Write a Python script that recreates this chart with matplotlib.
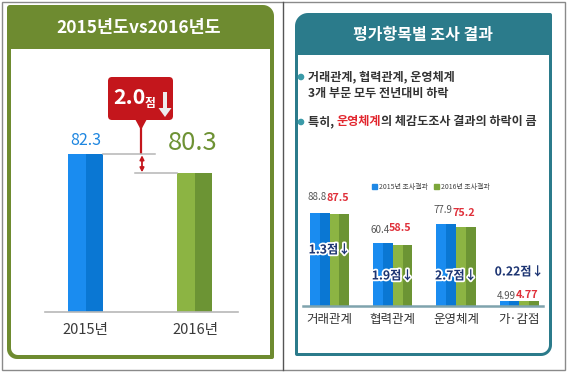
import matplotlib
matplotlib.use('Agg')
import matplotlib.pyplot as plt
import numpy as np
from matplotlib.patches import Polygon, FancyBboxPatch, Circle, Rectangle
import matplotlib.patheffects as pe

plt.rcParams['font.family'] = ['Noto Sans CJK KR', 'DejaVu Sans']

# ---------------- data ----------------
left_title = '2015년도vs2016년도'
years = ['2015년', '2016년']
year_scores = [82.3, 80.3]

right_title = '평가항목별 조사 결과'
categories = ['거래관계', '협력관계', '운영체계', '가·감점']
scores_2015 = [88.8, 60.4, 77.9, 4.99]
scores_2016 = [87.5, 58.5, 75.2, 4.77]
series_names = ['2015년 조사결과', '2016년 조사결과']
bullet1 = ['거래관계, 협력관계, 운영체계', '3개 부문 모두 전년대비 하락']
bullet2 = ['특히, ', '운영체계', '의 체감도조사 결과의 하락이 큼']
unit = '점'

# ---------------- styles ----------------
W, H = 567, 378
GREEN_HDR = '#6E8B30'
TEAL_HDR = '#2B7B8B'
BLUE_L, BLUE_D = '#1A8CF0', '#0A77D3'
GREEN_L, GREEN_D = '#8CB443', '#6C9434'
RED = '#C4161C'
NAVY = '#1C3472'
DARK = '#333333'

fig = plt.figure(figsize=(W / 100, H / 100), dpi=100)
bg = fig.add_axes([0, 0, 1, 1])
bg.set_xlim(0, W)
bg.set_ylim(H, 0)
bg.axis('off')


def rpoly(x0, y0, x1, y1, radii, **kw):
    tl, tr, br, bl = radii
    pts = []
    def arc(cx, cy, r, a0, a1):
        for a in np.linspace(np.radians(a0), np.radians(a1), 12):
            pts.append((cx + r * np.cos(a), cy + r * np.sin(a)))
    arc(x0 + tl, y0 + tl, tl, 180, 270)
    arc(x1 - tr, y0 + tr, tr, 270, 360)
    arc(x1 - br, y1 - br, br, 0, 90)
    arc(x0 + bl, y1 - bl, bl, 90, 180)
    return Polygon(pts, closed=True, **kw)


def px_axes(x0, y0, x1, y1):
    return fig.add_axes([x0 / W, 1 - y1 / H, (x1 - x0) / W, (y1 - y0) / H])


# outer gray frame
bg.add_patch(Rectangle((2, 2), 563, 368, fill=False, ec='#8a8a8a', lw=1.0))
bg.plot([283, 283], [2, 370], color='#555555', lw=1.0)

# left panel frame
bg.add_patch(rpoly(7, 5, 274, 359, (3, 11, 2, 10), fc=GREEN_HDR, ec='none'))
bg.add_patch(rpoly(11, 49, 270, 355, (0, 0, 0, 7), fc='white', ec='none'))
bg.text(139, 28, left_title, color='white', fontsize=12.5, fontweight='bold',
        ha='center', va='center')

# right panel frame
bg.add_patch(rpoly(295, 13, 552, 356, (13, 2, 11, 2), fc=TEAL_HDR, ec='none'))
bg.add_patch(rpoly(298, 55, 549, 353, (0, 0, 8, 0), fc='white', ec='none'))
bg.text(423, 35, right_title, color='white', fontsize=11.5, fontweight='bold',
        ha='center', va='center')

# bullets
for yy in (77, 122):
    bg.add_patch(Circle((301, yy), 2.6, color='#3A9AA8'))
FS_B = 8.7
bg.text(308, 77, bullet1[0], fontsize=FS_B, fontweight='bold', color=DARK, va='center')
bg.text(308, 94, bullet1[1], fontsize=FS_B, fontweight='bold', color=DARK, va='center')
t1 = bg.text(308, 122, bullet2[0], fontsize=FS_B, fontweight='bold', color=DARK, va='center')
t2 = bg.annotate(bullet2[1], xy=(1, 0), xycoords=t1, fontsize=FS_B, fontweight='bold',
                 color='#E2262E', va='bottom', ha='left')
bg.annotate(bullet2[2], xy=(1, 0), xycoords=t2, fontsize=FS_B, fontweight='bold',
            color=DARK, va='bottom', ha='left')

# ---------------- left chart ----------------
axL = px_axes(45, 60, 238, 312)
axL.patch.set_alpha(0)
px_per_unit_L = 9.5
base_L = 65.7
axL.set_ylim(base_L, base_L + 252 / px_per_unit_L)
axL.set_xlim(-0.37, 1.393)
wL = 0.32
xL = np.arange(len(years))
colsL = [(BLUE_L, BLUE_D), (GREEN_L, GREEN_D)]
for i, v in enumerate(year_scores):
    axL.bar(xL[i] - wL / 4, v - base_L, wL / 2, bottom=base_L, color=colsL[i][0], lw=0)
    axL.bar(xL[i] + wL / 4, v - base_L, wL / 2, bottom=base_L, color=colsL[i][1], lw=0)
axL.annotate(f'{year_scores[0]:.1f}', (xL[0], year_scores[0]), xytext=(0, 14),
             textcoords='offset pixels', ha='center', va='center',
             fontsize=11.5, color='#1E86E0')
axL.annotate(f'{year_scores[1]:.1f}', (xL[1], year_scores[1]), xytext=(-2, 30),
             textcoords='offset pixels', ha='center', va='center',
             fontsize=18.5, color='#6E9234')
axL.plot([xL[0] + wL / 2, 0.635], [year_scores[0]] * 2, color='#b5b5b5', lw=1.1)
axL.plot([0.45, xL[1] - wL / 2], [year_scores[1]] * 2, color='#b5b5b5', lw=1.1)
axL.annotate('', xy=(0.516, year_scores[1] + 0.1), xytext=(0.516, year_scores[0] - 0.1),
             arrowprops=dict(arrowstyle='<|-|>', color=RED, lw=1.3, mutation_scale=6,
                             shrinkA=0, shrinkB=0))
for s in ('top', 'left', 'right'):
    axL.spines[s].set_visible(False)
axL.spines['bottom'].set_color('#b8b8b8')
axL.spines['bottom'].set_linewidth(1.2)
axL.set_yticks([])
axL.set_xticks(xL, years)
axL.tick_params(axis='x', length=0, pad=8, labelsize=10.5, labelcolor='#3a3a3a')

# callout
diff_total = year_scores[0] - year_scores[1]
bg.add_patch(FancyBboxPatch((108, 77), 65, 43, boxstyle='round,pad=0,rounding_size=4',
                            fc=RED, ec='none'))
bg.add_patch(Polygon([(135, 119), (147, 119), (141, 130)], closed=True, fc=RED, ec='none'))
bg.plot([141, 141], [125, 153], color=RED, lw=1.6)
bg.text(129, 98, f'{diff_total:.1f}', color='white', fontsize=15.5, fontweight='bold',
        ha='center', va='center')
bg.text(150, 103, unit, color='white', fontsize=8.5, fontweight='bold',
        ha='center', va='center')
bg.add_patch(Polygon([(163, 92), (167, 92), (167, 108), (171.5, 108), (165, 117),
                      (158.5, 108), (163, 108)], closed=True, fc='#EDEDED', ec='none'))

# ---------------- right chart ----------------
axR = px_axes(303, 150, 543, 306)
axR.patch.set_alpha(0)
px_per_unit_R = 1.05
axR.set_ylim(0, 156 / px_per_unit_R)
axR.set_xlim(-0.42, 3.378)
xR = np.arange(len(categories))
bw = 0.31
for arr, off, (cl, cd) in ((scores_2015, -bw / 2, (BLUE_L, BLUE_D)),
                           (scores_2016, bw / 2, (GREEN_L, GREEN_D))):
    axR.bar(xR + off - bw / 4, arr, bw / 2, color=cl, lw=0)
    axR.bar(xR + off + bw / 4, arr, bw / 2, color=cd, lw=0)

lab_off_15 = [16, 13, 14, 5]
lab_off_16 = [16, 17, 14, 6]
for i in range(len(categories)):
    v15, v16 = scores_2015[i], scores_2016[i]
    fmt = '{:.2f}' if v15 < 10 else '{:.1f}'
    axR.annotate(fmt.format(v15), (xR[i] - bw / 2, v15), xytext=(-3, lab_off_15[i]),
                 textcoords='offset pixels', ha='center', va='center',
                 fontsize=7, color='#555555')
    axR.annotate(fmt.format(v16), (xR[i] + bw / 2, v16), xytext=(-2, lab_off_16[i]),
                 textcoords='offset pixels', ha='center', va='center',
                 fontsize=7.8, fontweight='bold', color='#E0303A')

diff_y_px = [250, 276, 276, 272]
for i in range(len(categories)):
    d = scores_2015[i] - scores_2016[i]
    fmt = '{:.2f}' if d < 1 else '{:.1f}'
    axR.text(xR[i], (306 - diff_y_px[i]) / px_per_unit_R, fmt.format(d) + unit + '↓',
             ha='center', va='center', fontsize=8.8, fontweight='bold', color=NAVY,
             path_effects=[pe.withStroke(linewidth=2.5, foreground='white')])

for s in ('top', 'left', 'right'):
    axR.spines[s].set_visible(False)
axR.spines['bottom'].set_color('#7FA3AD')
axR.spines['bottom'].set_linewidth(1.8)
axR.set_yticks([])
axR.set_xticks(xR, categories)
axR.tick_params(axis='x', length=0, pad=5, labelsize=9, labelcolor='#333333')

handles = [Rectangle((0, 0), 1, 1, color='#1E88E5'), Rectangle((0, 0), 1, 1, color='#7CA63A')]
axR.legend(handles, series_names, loc='center', bbox_to_anchor=(0.533, 0.763), ncol=2,
           frameon=False, fontsize=5, handlelength=0.8, handleheight=0.8,
           handletextpad=0.3, columnspacing=0.8, labelcolor='#444444')

fig.savefig('out.png', dpi=100)
